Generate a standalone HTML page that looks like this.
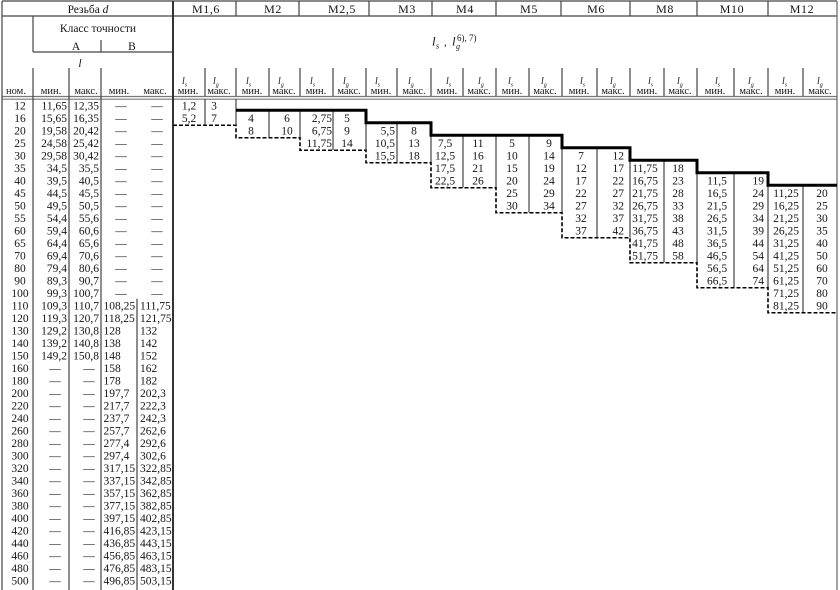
<!DOCTYPE html>
<html><head><meta charset="utf-8"><style>
html,body{margin:0;padding:0;background:#fff;}
svg{display:block;}
text{font-family:"Liberation Serif","Times New Roman",serif;fill:#151515;font-size:11.5px;}
.c{text-anchor:middle}.e{text-anchor:end}
.h{font-size:10.5px}
.i{font-style:italic}
</style></head><body>
<svg width="840" height="590" viewBox="0 0 840 590">
<rect width="840" height="590" fill="#fff"/>
<g stroke="#444" stroke-width="1.2" fill="none">
<line x1="2" y1="1" x2="837" y2="1"/>
<line x1="2" y1="16" x2="837" y2="16"/>
<line x1="2" y1="96.5" x2="837" y2="96.5" stroke="#777"/>
<line x1="2" y1="99.2" x2="837" y2="99.2" stroke="#777"/>
<line x1="33" y1="52" x2="173" y2="52"/>
<line x1="2" y1="1" x2="2" y2="590"/>
<line x1="837" y1="1" x2="837" y2="590" stroke="#666"/>
<line x1="33" y1="16" x2="33" y2="52"/>
<line x1="101" y1="40" x2="101" y2="52"/>
<line x1="33" y1="68" x2="33" y2="590"/>
<line x1="69" y1="68" x2="69" y2="590"/>
<line x1="101" y1="68" x2="101" y2="590"/>
<line x1="137" y1="298.75" x2="137" y2="590"/>
<line x1="236" y1="1" x2="236" y2="16"/>
<line x1="299" y1="1" x2="299" y2="16"/>
<line x1="369" y1="1" x2="369" y2="16"/>
<line x1="432" y1="1" x2="432" y2="16"/>
<line x1="496" y1="1" x2="496" y2="16"/>
<line x1="561" y1="1" x2="561" y2="16"/>
<line x1="630" y1="1" x2="630" y2="16"/>
<line x1="697" y1="1" x2="697" y2="16"/>
<line x1="768" y1="1" x2="768" y2="16"/>
<path d="M205,68V96 M236,68V96 M269,68V96 M300,68V96 M333,68V96 M366,68V96 M397,68V96 M431,68V96 M463,68V96 M496,68V96 M529,68V96 M562,68V96 M597,68V96 M630,68V96 M664,68V96 M697,68V96 M734,68V96 M768,68V96 M803,68V96"/>
<path d="M205,99V125 M236,99V125 M269,110V137.5 M300,110V137.5 M333,110V150 M366,122.5V150 M397,122.5V162.5 M431,135V162.5 M463,135V187.5 M496,135V187.5 M529,135V212.5 M562,147.5V212.5 M597,147.5V237.5 M630,160V237.5 M664,160V262.5 M697,172.5V262.5 M734,172.5V287.5 M768,185V287.5 M803,185V312.5"/>
</g>
<line x1="173" y1="1" x2="173" y2="590" stroke="#333" stroke-width="2"/>
<path d="M236,110.25H366V122.75H431V135.25H562V147.75H630V160.25H697V172.75H768V185.25H837" fill="none" stroke="#000" stroke-width="3"/>
<path d="M173,125.25H236V137.75H300V150.25H366V162.75H431V187.75H496V212.75H562V237.75H630V262.75H697V287.75H768V312.75H837" fill="none" stroke="#000" stroke-width="1.6" stroke-dasharray="4 2"/>

<text x="88" y="13" class="c">Резьба <tspan class="i">d</tspan></text>
<text x="206" y="13" class="c" style="font-size:12px;letter-spacing:0.6px">M1,6</text>
<text x="273" y="13" class="c" style="font-size:12px;letter-spacing:0.6px">M2</text>
<text x="342" y="13" class="c" style="font-size:12px;letter-spacing:0.6px">M2,5</text>
<text x="407" y="13" class="c" style="font-size:12px;letter-spacing:0.6px">M3</text>
<text x="465" y="13" class="c" style="font-size:12px;letter-spacing:0.6px">M4</text>
<text x="529" y="13" class="c" style="font-size:12px;letter-spacing:0.6px">M5</text>
<text x="596" y="13" class="c" style="font-size:12px;letter-spacing:0.6px">M6</text>
<text x="665" y="13" class="c" style="font-size:12px;letter-spacing:0.6px">M8</text>
<text x="732" y="13" class="c" style="font-size:12px;letter-spacing:0.6px">M10</text>
<text x="802" y="13" class="c" style="font-size:12px;letter-spacing:0.6px">M12</text>
<text x="98" y="32" class="c">Класс точности</text>
<text x="76" y="50" class="c">A</text>
<text x="132" y="50" class="c">B</text>
<text x="80" y="67" class="c i">l</text>
<text x="432" y="45.7" class="i" style="font-size:13px">l</text>
<text x="436" y="48.5" class="i" style="font-size:8px">s</text>
<text x="444" y="45.7" style="font-size:11px">,</text>
<text x="452" y="45.7" class="i" style="font-size:13px">l</text>
<text x="456" y="49" class="i" style="font-size:8px">g</text>
<text x="457" y="41" style="font-size:9px">6), 7)</text>

<text x="16" y="94" class="c h">ном.</text>
<text x="51" y="94" class="c h">мин.</text>
<text x="86" y="94" class="c h">макс.</text>
<text x="119" y="94" class="c h">мин.</text>
<text x="155" y="94" class="c h">макс.</text>
<text x="188" y="94" class="c h">мин.</text><text x="219" y="94" class="c h">макс.</text>
<text x="252" y="94" class="c h">мин.</text><text x="284" y="94" class="c h">макс.</text>
<text x="316" y="94" class="c h">мин.</text><text x="349" y="94" class="c h">макс.</text>
<text x="381" y="94" class="c h">мин.</text><text x="414" y="94" class="c h">макс.</text>
<text x="447" y="94" class="c h">мин.</text><text x="479" y="94" class="c h">макс.</text>
<text x="512" y="94" class="c h">мин.</text><text x="545" y="94" class="c h">макс.</text>
<text x="579" y="94" class="c h">мин.</text><text x="613" y="94" class="c h">макс.</text>
<text x="647" y="94" class="c h">мин.</text><text x="680" y="94" class="c h">макс.</text>
<text x="715" y="94" class="c h">мин.</text><text x="751" y="94" class="c h">макс.</text>
<text x="785" y="94" class="c h">мин.</text><text x="820" y="94" class="c h">макс.</text>
<g>
<text x="182" y="84" class="i" style="font-size:10px">l<tspan dy="2.5" style="font-size:6px">s</tspan></text>
<text x="213" y="84" class="i" style="font-size:10px">l<tspan dy="2.5" style="font-size:6px">g</tspan></text>
<text x="246" y="84" class="i" style="font-size:10px">l<tspan dy="2.5" style="font-size:6px">s</tspan></text>
<text x="278" y="84" class="i" style="font-size:10px">l<tspan dy="2.5" style="font-size:6px">g</tspan></text>
<text x="310" y="84" class="i" style="font-size:10px">l<tspan dy="2.5" style="font-size:6px">s</tspan></text>
<text x="343" y="84" class="i" style="font-size:10px">l<tspan dy="2.5" style="font-size:6px">g</tspan></text>
<text x="375" y="84" class="i" style="font-size:10px">l<tspan dy="2.5" style="font-size:6px">s</tspan></text>
<text x="408" y="84" class="i" style="font-size:10px">l<tspan dy="2.5" style="font-size:6px">g</tspan></text>
<text x="446" y="84" class="i" style="font-size:10px">l<tspan dy="2.5" style="font-size:6px">s</tspan></text>
<text x="478" y="84" class="i" style="font-size:10px">l<tspan dy="2.5" style="font-size:6px">g</tspan></text>
<text x="508" y="84" class="i" style="font-size:10px">l<tspan dy="2.5" style="font-size:6px">s</tspan></text>
<text x="541" y="84" class="i" style="font-size:10px">l<tspan dy="2.5" style="font-size:6px">g</tspan></text>
<text x="580" y="84" class="i" style="font-size:10px">l<tspan dy="2.5" style="font-size:6px">s</tspan></text>
<text x="610" y="84" class="i" style="font-size:10px">l<tspan dy="2.5" style="font-size:6px">g</tspan></text>
<text x="648" y="84" class="i" style="font-size:10px">l<tspan dy="2.5" style="font-size:6px">s</tspan></text>
<text x="677" y="84" class="i" style="font-size:10px">l<tspan dy="2.5" style="font-size:6px">g</tspan></text>
<text x="715" y="84" class="i" style="font-size:10px">l<tspan dy="2.5" style="font-size:6px">s</tspan></text>
<text x="748" y="84" class="i" style="font-size:10px">l<tspan dy="2.5" style="font-size:6px">g</tspan></text>
<text x="782" y="84" class="i" style="font-size:10px">l<tspan dy="2.5" style="font-size:6px">s</tspan></text>
<text x="817" y="84" class="i" style="font-size:10px">l<tspan dy="2.5" style="font-size:6px">g</tspan></text>
</g>

<g transform="translate(0,109.3)"><text x="20" class="c">12</text><text x="67" class="e">11,65</text><text x="99" class="e">12,35</text><text x="121" class="c">—</text><text x="157" class="c">—</text>
<text x="189" class="c">1,2</text><text x="214" class="c">3</text></g>
<g transform="translate(0,121.8)"><text x="20" class="c">16</text><text x="67" class="e">15,65</text><text x="99" class="e">16,35</text><text x="121" class="c">—</text><text x="157" class="c">—</text>
<text x="189" class="c">5,2</text><text x="214" class="c">7</text><text x="251" class="c">4</text><text x="287" class="c">6</text><text x="332" class="e">2,75</text><text x="347" class="c">5</text></g>
<g transform="translate(0,134.3)"><text x="20" class="c">20</text><text x="67" class="e">19,58</text><text x="99" class="e">20,42</text><text x="121" class="c">—</text><text x="157" class="c">—</text>
<text x="251" class="c">8</text><text x="287" class="c">10</text><text x="332" class="e">6,75</text><text x="347" class="c">9</text><text x="395" class="e">5,5</text><text x="414" class="c">8</text></g>
<g transform="translate(0,146.8)"><text x="20" class="c">25</text><text x="67" class="e">24,58</text><text x="99" class="e">25,42</text><text x="121" class="c">—</text><text x="157" class="c">—</text>
<text x="332" class="e">11,75</text><text x="347" class="c">14</text><text x="395" class="e">10,5</text><text x="414" class="c">13</text><text x="445" class="c">7,5</text><text x="478" class="c">11</text><text x="512" class="c">5</text><text x="549" class="c">9</text></g>
<g transform="translate(0,159.3)"><text x="20" class="c">30</text><text x="67" class="e">29,58</text><text x="99" class="e">30,42</text><text x="121" class="c">—</text><text x="157" class="c">—</text>
<text x="395" class="e">15,5</text><text x="414" class="c">18</text><text x="445" class="c">12,5</text><text x="478" class="c">16</text><text x="512" class="c">10</text><text x="549" class="c">14</text><text x="581" class="c">7</text><text x="624" class="e">12</text></g>
<g transform="translate(0,171.8)"><text x="20" class="c">35</text><text x="67" class="e">34,5</text><text x="99" class="e">35,5</text><text x="121" class="c">—</text><text x="157" class="c">—</text>
<text x="445" class="c">17,5</text><text x="478" class="c">21</text><text x="512" class="c">15</text><text x="549" class="c">19</text><text x="581" class="c">12</text><text x="624" class="e">17</text><text x="645" class="c">11,75</text><text x="678" class="c">18</text></g>
<g transform="translate(0,184.3)"><text x="20" class="c">40</text><text x="67" class="e">39,5</text><text x="99" class="e">40,5</text><text x="121" class="c">—</text><text x="157" class="c">—</text>
<text x="445" class="c">22,5</text><text x="478" class="c">26</text><text x="512" class="c">20</text><text x="549" class="c">24</text><text x="581" class="c">17</text><text x="624" class="e">22</text><text x="645" class="c">16,75</text><text x="678" class="c">23</text><text x="717" class="c">11,5</text><text x="764" class="e">19</text></g>
<g transform="translate(0,196.8)"><text x="20" class="c">45</text><text x="67" class="e">44,5</text><text x="99" class="e">45,5</text><text x="121" class="c">—</text><text x="157" class="c">—</text>
<text x="512" class="c">25</text><text x="549" class="c">29</text><text x="581" class="c">22</text><text x="624" class="e">27</text><text x="645" class="c">21,75</text><text x="678" class="c">28</text><text x="717" class="c">16,5</text><text x="764" class="e">24</text><text x="786" class="c">11,25</text><text x="822" class="c">20</text></g>
<g transform="translate(0,209.3)"><text x="20" class="c">50</text><text x="67" class="e">49,5</text><text x="99" class="e">50,5</text><text x="121" class="c">—</text><text x="157" class="c">—</text>
<text x="512" class="c">30</text><text x="549" class="c">34</text><text x="581" class="c">27</text><text x="624" class="e">32</text><text x="645" class="c">26,75</text><text x="678" class="c">33</text><text x="717" class="c">21,5</text><text x="764" class="e">29</text><text x="786" class="c">16,25</text><text x="822" class="c">25</text></g>
<g transform="translate(0,221.8)"><text x="20" class="c">55</text><text x="67" class="e">54,4</text><text x="99" class="e">55,6</text><text x="121" class="c">—</text><text x="157" class="c">—</text>
<text x="581" class="c">32</text><text x="624" class="e">37</text><text x="645" class="c">31,75</text><text x="678" class="c">38</text><text x="717" class="c">26,5</text><text x="764" class="e">34</text><text x="786" class="c">21,25</text><text x="822" class="c">30</text></g>
<g transform="translate(0,234.3)"><text x="20" class="c">60</text><text x="67" class="e">59,4</text><text x="99" class="e">60,6</text><text x="121" class="c">—</text><text x="157" class="c">—</text>
<text x="581" class="c">37</text><text x="624" class="e">42</text><text x="645" class="c">36,75</text><text x="678" class="c">43</text><text x="717" class="c">31,5</text><text x="764" class="e">39</text><text x="786" class="c">26,25</text><text x="822" class="c">35</text></g>
<g transform="translate(0,246.8)"><text x="20" class="c">65</text><text x="67" class="e">64,4</text><text x="99" class="e">65,6</text><text x="121" class="c">—</text><text x="157" class="c">—</text>
<text x="645" class="c">41,75</text><text x="678" class="c">48</text><text x="717" class="c">36,5</text><text x="764" class="e">44</text><text x="786" class="c">31,25</text><text x="822" class="c">40</text></g>
<g transform="translate(0,259.3)"><text x="20" class="c">70</text><text x="67" class="e">69,4</text><text x="99" class="e">70,6</text><text x="121" class="c">—</text><text x="157" class="c">—</text>
<text x="645" class="c">51,75</text><text x="678" class="c">58</text><text x="717" class="c">46,5</text><text x="764" class="e">54</text><text x="786" class="c">41,25</text><text x="822" class="c">50</text></g>
<g transform="translate(0,271.8)"><text x="20" class="c">80</text><text x="67" class="e">79,4</text><text x="99" class="e">80,6</text><text x="121" class="c">—</text><text x="157" class="c">—</text>
<text x="717" class="c">56,5</text><text x="764" class="e">64</text><text x="786" class="c">51,25</text><text x="822" class="c">60</text></g>
<g transform="translate(0,284.3)"><text x="20" class="c">90</text><text x="67" class="e">89,3</text><text x="99" class="e">90,7</text><text x="121" class="c">—</text><text x="157" class="c">—</text>
<text x="717" class="c">66,5</text><text x="764" class="e">74</text><text x="786" class="c">61,25</text><text x="822" class="c">70</text></g>
<g transform="translate(0,296.8)"><text x="20" class="c">100</text><text x="67" class="e">99,3</text><text x="99" class="e">100,7</text><text x="121" class="c">—</text><text x="157" class="c">—</text>
<text x="786" class="c">71,25</text><text x="822" class="c">80</text></g>
<g transform="translate(0,309.3)"><text x="20" class="c">110</text><text x="67" class="e">109,3</text><text x="99" class="e">110,7</text><text x="103.5">108,25</text><text x="140">111,75</text>
<text x="786" class="c">81,25</text><text x="822" class="c">90</text></g>
<g transform="translate(0,321.8)"><text x="20" class="c">120</text><text x="67" class="e">119,3</text><text x="99" class="e">120,7</text><text x="103.5">118,25</text><text x="140">121,75</text></g>
<g transform="translate(0,334.3)"><text x="20" class="c">130</text><text x="67" class="e">129,2</text><text x="99" class="e">130,8</text><text x="103.5">128</text><text x="140">132</text></g>
<g transform="translate(0,346.8)"><text x="20" class="c">140</text><text x="67" class="e">139,2</text><text x="99" class="e">140,8</text><text x="103.5">138</text><text x="140">142</text></g>
<g transform="translate(0,359.3)"><text x="20" class="c">150</text><text x="67" class="e">149,2</text><text x="99" class="e">150,8</text><text x="103.5">148</text><text x="140">152</text></g>
<g transform="translate(0,371.8)"><text x="20" class="c">160</text><text x="55" class="c">—</text><text x="89" class="c">—</text><text x="103.5">158</text><text x="140">162</text></g>
<g transform="translate(0,384.3)"><text x="20" class="c">180</text><text x="55" class="c">—</text><text x="89" class="c">—</text><text x="103.5">178</text><text x="140">182</text></g>
<g transform="translate(0,396.8)"><text x="20" class="c">200</text><text x="55" class="c">—</text><text x="89" class="c">—</text><text x="103.5">197,7</text><text x="140">202,3</text></g>
<g transform="translate(0,409.3)"><text x="20" class="c">220</text><text x="55" class="c">—</text><text x="89" class="c">—</text><text x="103.5">217,7</text><text x="140">222,3</text></g>
<g transform="translate(0,421.8)"><text x="20" class="c">240</text><text x="55" class="c">—</text><text x="89" class="c">—</text><text x="103.5">237,7</text><text x="140">242,3</text></g>
<g transform="translate(0,434.3)"><text x="20" class="c">260</text><text x="55" class="c">—</text><text x="89" class="c">—</text><text x="103.5">257,7</text><text x="140">262,6</text></g>
<g transform="translate(0,446.8)"><text x="20" class="c">280</text><text x="55" class="c">—</text><text x="89" class="c">—</text><text x="103.5">277,4</text><text x="140">292,6</text></g>
<g transform="translate(0,459.3)"><text x="20" class="c">300</text><text x="55" class="c">—</text><text x="89" class="c">—</text><text x="103.5">297,4</text><text x="140">302,6</text></g>
<g transform="translate(0,471.8)"><text x="20" class="c">320</text><text x="55" class="c">—</text><text x="89" class="c">—</text><text x="103.5">317,15</text><text x="140">322,85</text></g>
<g transform="translate(0,484.3)"><text x="20" class="c">340</text><text x="55" class="c">—</text><text x="89" class="c">—</text><text x="103.5">337,15</text><text x="140">342,85</text></g>
<g transform="translate(0,496.8)"><text x="20" class="c">360</text><text x="55" class="c">—</text><text x="89" class="c">—</text><text x="103.5">357,15</text><text x="140">362,85</text></g>
<g transform="translate(0,509.3)"><text x="20" class="c">380</text><text x="55" class="c">—</text><text x="89" class="c">—</text><text x="103.5">377,15</text><text x="140">382,85</text></g>
<g transform="translate(0,521.8)"><text x="20" class="c">400</text><text x="55" class="c">—</text><text x="89" class="c">—</text><text x="103.5">397,15</text><text x="140">402,85</text></g>
<g transform="translate(0,534.3)"><text x="20" class="c">420</text><text x="55" class="c">—</text><text x="89" class="c">—</text><text x="103.5">416,85</text><text x="140">423,15</text></g>
<g transform="translate(0,546.8)"><text x="20" class="c">440</text><text x="55" class="c">—</text><text x="89" class="c">—</text><text x="103.5">436,85</text><text x="140">443,15</text></g>
<g transform="translate(0,559.3)"><text x="20" class="c">460</text><text x="55" class="c">—</text><text x="89" class="c">—</text><text x="103.5">456,85</text><text x="140">463,15</text></g>
<g transform="translate(0,571.8)"><text x="20" class="c">480</text><text x="55" class="c">—</text><text x="89" class="c">—</text><text x="103.5">476,85</text><text x="140">483,15</text></g>
<g transform="translate(0,584.3)"><text x="20" class="c">500</text><text x="55" class="c">—</text><text x="89" class="c">—</text><text x="103.5">496,85</text><text x="140">503,15</text></g>
</svg>
</body></html>
